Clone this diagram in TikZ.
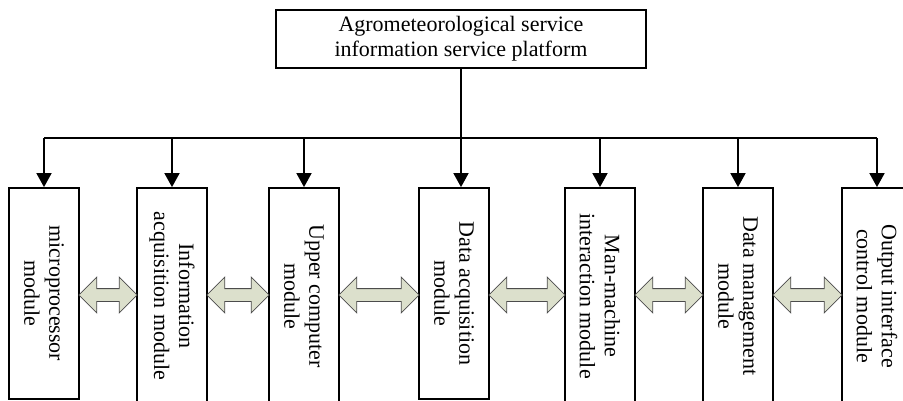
\documentclass[tikz,border=0pt]{standalone}
\usepackage{fontspec}
\setmainfont{Liberation Serif}
\usetikzlibrary{arrows.meta,shapes.arrows,calc}
\definecolor{arrowgreen}{RGB}{220,224,204}

\begin{document}
\begin{tikzpicture}
  [x=1pt,y=-1pt,
   modbox/.style={draw,line width=1.8pt,rotate=-90,minimum height=70pt,
     inner sep=2pt,align=center,font=\fontsize{22}{25}\selectfont},
   topbox/.style={draw,line width=1.8pt,minimum width=370pt,minimum height=58pt,
     align=center,font=\fontsize{22}{25}\selectfont},
   down/.style={line width=1.8pt,-{Triangle[width=15pt,length=14pt]}},
   dblarr/.style={double arrow,draw=black!70,line width=0.8pt,fill=arrowgreen,
     inner xsep=0pt,inner ysep=6pt,double arrow head extend=11.5pt,
     double arrow tip angle=90}]
  \useasboundingbox (0,0) rectangle (903,400);

  \node[topbox] (platform) at (461,39) {Agrometeorological service\\information service platform};

  % modules, top edge at y=188
  \foreach \cx/\len/\name/\txt in {
      44/211/micro/{microprocessor\\module},
      172/216/infoacq/{Information\\acquisition module},
      304/216/upper/{Upper computer\\module},
      454/211/dataacq/{Data acquisition\\module},
      600/216/manmach/{Man-machine\\interaction module},
      738/216/datamgmt/{Data management\\module},
      877/216/output/{Output interface\\control module}}
    \node[modbox,minimum width=\len pt] (\name) at (\cx,{188+\len/2}) {\txt};

  \coordinate (bus) at (0,138);
  \coordinate (arrowrow) at (0,295);

  \draw[line width=1.8pt] (micro.west |- bus) -- (output.west |- bus);
  \draw[line width=1.8pt] (platform.south) -- (platform.south |- bus);
  \foreach \n in {micro,infoacq,upper,manmach,datamgmt,output}
    \draw[down] (\n.west |- bus) -- (\n.west);
  \draw[down] (platform.south |- bus) -- (platform.south |- dataacq.west);

  % double block arrows between neighbours
  \foreach \a/\b in {micro/infoacq,infoacq/upper,upper/dataacq,
      dataacq/manmach,manmach/datamgmt,datamgmt/output}
    \path let \p1=(\a.north), \p2=(\b.south) in
      node[dblarr,minimum height={\x2-\x1+2pt}]
        at ($(\a.north |- arrowrow)!.5!(\b.south |- arrowrow)$) {};

\end{tikzpicture}
\end{document}
